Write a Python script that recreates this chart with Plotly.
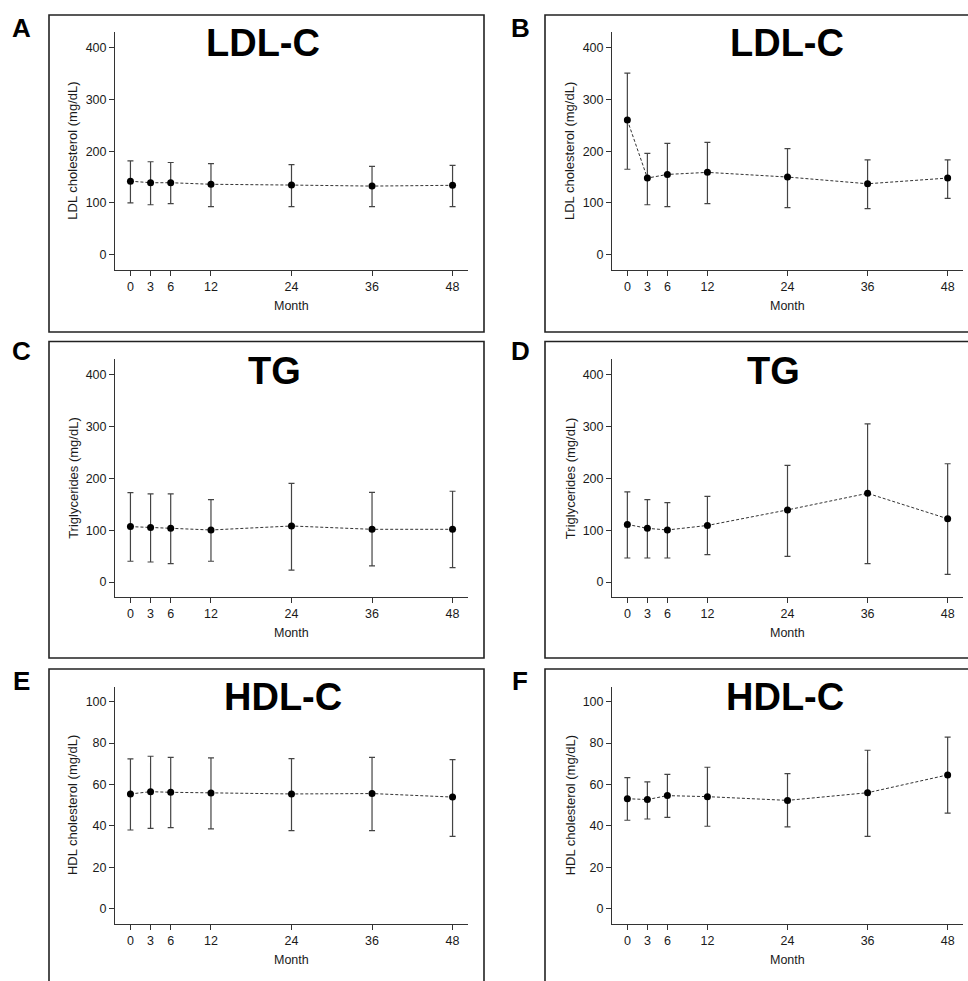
import plotly.graph_objects as go

W, H = 968, 981

months = [0, 3, 6, 12, 24, 36, 48]
x_ticks = [0, 3, 6, 12, 24, 36, 48]
lipid_ticks = [0, 100, 200, 300, 400]
hdl_ticks = [0, 20, 40, 60, 80, 100]

# Panel A: LDL-C
ldl_a_mean = [142, 139, 139, 136, 134.5, 132.5, 134]
ldl_a_upper = [181, 179.5, 178, 176, 174, 170.5, 172.5]
ldl_a_lower = [100, 96.5, 98.5, 93, 93, 93, 93]
# Panel B: LDL-C
ldl_b_mean = [260, 148, 155, 159, 150, 137, 148]
ldl_b_upper = [350.5, 195.5, 215, 217, 205, 183, 183]
ldl_b_lower = [165, 96.5, 93, 98.5, 91, 89, 108.7]
# Panel C: TG
tg_c_mean = [106.8, 105, 103.5, 100.3, 108, 101.6, 101.6]
tg_c_upper = [172.3, 170, 170, 159, 190, 173, 175]
tg_c_lower = [40, 38.6, 35.4, 40, 23, 31, 27.6]
# Panel D: TG
tg_d_mean = [111, 103.5, 100.3, 109, 139, 171, 122]
tg_d_upper = [173.6, 159, 153, 165, 225, 305, 228]
tg_d_lower = [46.3, 46.3, 46.3, 52.7, 49.5, 35.4, 14.8]
# Panel E: HDL-C
hdl_e_mean = [55.4, 56.5, 56.2, 55.9, 55.4, 55.6, 53.9]
hdl_e_upper = [72.3, 73.6, 73.1, 72.8, 72.5, 73.1, 72.0]
hdl_e_lower = [38.0, 38.8, 39.1, 38.5, 37.7, 37.7, 34.9]
# Panel F: HDL-C
hdl_f_mean = [53.1, 52.7, 54.6, 54.1, 52.3, 56.0, 64.6]
hdl_f_upper = [63.3, 61.2, 64.9, 68.3, 65.2, 76.5, 82.8]
hdl_f_lower = [42.7, 43.3, 44.1, 39.8, 39.5, 34.9, 46.1]

panel_letters = ["A", "B", "C", "D", "E", "F"]
panel_titles = ["LDL-C", "LDL-C", "TG", "TG", "HDL-C", "HDL-C"]
y_titles = ["LDL cholesterol (mg/dL)", "LDL cholesterol (mg/dL)",
            "Triglycerides (mg/dL)", "Triglycerides (mg/dL)",
            "HDL cholesterol (mg/dL)", "HDL cholesterol (mg/dL)"]
x_title = "Month"

series = [
    (ldl_a_mean, ldl_a_upper, ldl_a_lower),
    (ldl_b_mean, ldl_b_upper, ldl_b_lower),
    (tg_c_mean, tg_c_upper, tg_c_lower),
    (tg_d_mean, tg_d_upper, tg_d_lower),
    (hdl_e_mean, hdl_e_upper, hdl_e_lower),
    (hdl_f_mean, hdl_f_upper, hdl_f_lower),
]


def fx(p):
    return p / W


def fy(p):
    return 1 - p / H


# pixel layout
col_x = [(115, 468), (612, 963)]
row_y = [(32, 270), (359, 597.3), (686.7, 924)]
boxes_x = [(49, 484), (545, 990)]
boxes_y = [(15, 332), (341.5, 658), (669, 1000)]
title_cx = [263, 787, 274, 773, 283, 785]
title_cy = [43, 43, 371, 371, 697, 697]
letter_cx = [21, 520]
letter_cy = [28, 351, 681]
ytitle_cx = [72.7, 570]
xtitle_cy = [306, 633, 960]

TXT = "#1a1a1a"
FONT = "Liberation Sans, Arial, Helvetica, sans-serif"

fig = go.Figure()
layout = dict(
    width=W, height=H, margin=dict(l=0, r=0, t=0, b=0),
    paper_bgcolor="white", plot_bgcolor="white", showlegend=False,
    font=dict(family=FONT, color=TXT),
)
annotations = []
shapes = []

for i in range(6):
    r, c = divmod(i, 2)
    sfx = "" if i == 0 else str(i + 1)
    mean, up, lo = series[i]
    plus = [u - m for u, m in zip(up, mean)]
    minus = [m - l for m, l in zip(mean, lo)]
    is_hdl = r == 2
    fig.add_trace(go.Scatter(
        x=months, y=mean, mode="lines+markers",
        xaxis="x" + sfx, yaxis="y" + sfx,
        line=dict(color="#333333", width=1, dash="3px,2px"),
        marker=dict(color="black", size=7),
        error_y=dict(type="data", symmetric=False, array=plus, arrayminus=minus,
                     color="#444444", thickness=1.2, width=3),
    ))
    x0, x1 = col_x[c]
    y0, y1 = row_y[r]
    layout["xaxis" + sfx] = dict(
        domain=[fx(x0), fx(x1)], range=[-2.3, 50.3], anchor="y" + sfx,
        tickvals=x_ticks, ticks="outside", ticklen=5, tickcolor="#333",
        showline=True, linecolor="#333", linewidth=1, showgrid=False, zeroline=False,
        tickfont=dict(size=12.5, color=TXT, family=FONT),
    )
    layout["yaxis" + sfx] = dict(
        domain=[fy(y1), fy(y0)],
        range=[-7.4, 107.2] if is_hdl else [-29.5, 430],
        anchor="x" + sfx,
        tickvals=hdl_ticks if is_hdl else lipid_ticks,
        ticks="outside", ticklen=5, tickcolor="#333",
        showline=True, linecolor="#333", linewidth=1, showgrid=False, zeroline=False,
        tickfont=dict(size=12.5, color=TXT, family=FONT),
    )
    bx0, bx1 = boxes_x[c]
    by0, by1 = boxes_y[r]
    shapes.append(dict(type="rect", xref="paper", yref="paper",
                       x0=fx(bx0), x1=fx(bx1), y0=fy(by1), y1=fy(by0),
                       line=dict(color="#222", width=1.6), layer="below"))
    annotations.append(dict(text="<b>%s</b>" % panel_titles[i], xref="paper", yref="paper",
                            x=fx(title_cx[i]), y=fy(title_cy[i]), xanchor="center", yanchor="middle",
                            showarrow=False, font=dict(size=38, color="black", family=FONT)))
    annotations.append(dict(text="<b>%s</b>" % panel_letters[i], xref="paper", yref="paper",
                            x=fx(letter_cx[c]), y=fy(letter_cy[r]), xanchor="center", yanchor="middle",
                            showarrow=False, font=dict(size=26, color="black", family=FONT)))
    annotations.append(dict(text=y_titles[i], xref="paper", yref="paper", textangle=-90,
                            x=fx(ytitle_cx[c]), y=fy((y0 + y1) / 2), xanchor="center", yanchor="middle",
                            showarrow=False, font=dict(size=13, color=TXT, family=FONT)))
    annotations.append(dict(text=x_title, xref="paper", yref="paper",
                            x=fx((x0 + x1) / 2), y=fy(xtitle_cy[r]), xanchor="center", yanchor="middle",
                            showarrow=False, font=dict(size=12.5, color=TXT, family=FONT)))

layout["annotations"] = annotations
layout["shapes"] = shapes
fig.update_layout(**layout)
fig.write_html(
    "out.html",
    config={"displayModeBar": False},
    post_script="document.body.style.margin='0';document.body.style.overflow='hidden';",
)
